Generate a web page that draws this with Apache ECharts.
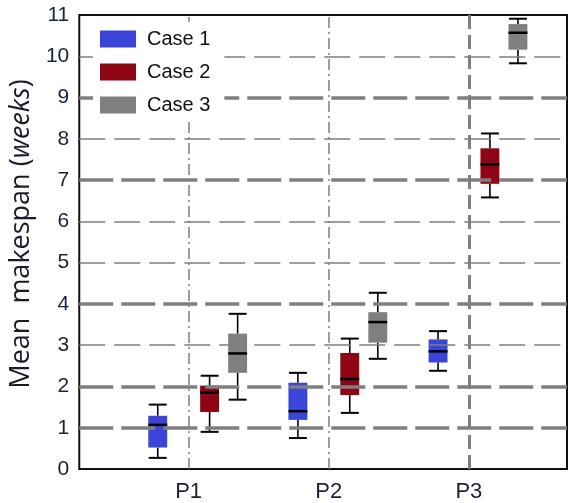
<!DOCTYPE html>
<html>
<head>
<meta charset="utf-8">
<script src="https://cdn.jsdelivr.net/npm/echarts@6/dist/echarts.min.js"></script>
<style>
html,body{margin:0;padding:0;background:#fff;}
#chart{width:569px;height:503px;}
</style>
</head>
<body>
<div id="chart"></div>
<script>
// ---- data ----
const categories = ['P1', 'P2', 'P3'];
const seriesNames = ['Case 1', 'Case 2', 'Case 3'];
// each row: [min, Q1, median, Q3, max] for P1, P2, P3
const case1 = [[0.27, 0.52, 1.07, 1.29, 1.56], [0.75, 1.19, 1.40, 2.09, 2.33], [2.38, 2.58, 2.85, 3.14, 3.34]];
const case2 = [[0.90, 1.38, 1.85, 2.02, 2.26], [1.36, 1.79, 2.18, 2.81, 3.16], [6.58, 6.91, 7.38, 7.77, 8.13]];
const case3 = [[1.68, 2.33, 2.80, 3.28, 3.76], [2.67, 3.06, 3.56, 3.80, 4.27], [9.83, 10.16, 10.57, 10.78, 10.91]];
const yTicks = [1, 2, 3, 4, 5, 6, 7, 8, 9, 10];
const thickTicks = [1, 2, 4, 7, 9];

// ---- layout / style ----
const caseData = [case1, case2, case3];
const caseColors = ['#3a44d6', '#8e0514', '#808080'];
const caseOffsets = [-0.22, 0.15, 0.35];

const chart = echarts.init(document.getElementById('chart'), null, {renderer: 'canvas'});

function makeRender(color) {
  return function (params, api) {
    const x = api.value(0);
    const lo = api.coord([x, api.value(1)]);
    const q1 = api.coord([x, api.value(2)]);
    const md = api.coord([x, api.value(3)]);
    const q3 = api.coord([x, api.value(4)]);
    const hi = api.coord([x, api.value(5)]);
    const w = api.size([1, 0])[0] * 0.135;
    const cw = w * 0.95;
    const cx = lo[0];
    const stroke = {stroke: '#000', lineWidth: 1.6};
    return {
      type: 'group',
      children: [
        {type: 'line', shape: {x1: cx, y1: lo[1], x2: cx, y2: q1[1]}, style: stroke},
        {type: 'line', shape: {x1: cx, y1: q3[1], x2: cx, y2: hi[1]}, style: stroke},
        {type: 'line', shape: {x1: cx - cw / 2, y1: lo[1], x2: cx + cw / 2, y2: lo[1]}, style: {stroke: '#000', lineWidth: 2}},
        {type: 'line', shape: {x1: cx - cw / 2, y1: hi[1], x2: cx + cw / 2, y2: hi[1]}, style: {stroke: '#000', lineWidth: 2}},
        {type: 'rect', shape: {x: cx - w / 2, y: q3[1], width: w, height: q1[1] - q3[1]}, style: {fill: color}},
        {type: 'line', shape: {x1: cx - w / 2, y1: md[1], x2: cx + w / 2, y2: md[1]}, style: {stroke: '#000', lineWidth: 2.5}}
      ]
    };
  };
}

const hLines = yTicks.map(v => ({
  yAxis: v,
  lineStyle: {
    color: '#7f7f7f',
    width: thickTicks.indexOf(v) >= 0 ? 3.5 : 1.6,
    type: thickTicks.indexOf(v) >= 0 ? [34, 8] : [26, 9]
  }
}));
const vLines = categories.map((c, i) => ({
  xAxis: i + 1,
  lineStyle: i === categories.length - 1
    ? {color: '#7f7f7f', width: 3, type: [14, 6]}
    : {color: '#7f7f7f', width: 1.5, type: [11, 4, 2, 4]}
}));

const series = [{
  type: 'line',
  data: [],
  z: 1,
  silent: true,
  markLine: {
    silent: true,
    symbol: ['none', 'none'],
    label: {show: false},
    animation: false,
    data: hLines.concat(vLines)
  }
}];
caseData.forEach((arr, k) => {
  series.push({
    name: seriesNames[k],
    type: 'custom',
    z: 3,
    itemStyle: {color: caseColors[k]},
    renderItem: makeRender(caseColors[k]),
    encode: {x: 0, y: [1, 2, 3, 4, 5]},
    data: arr.map((r, i) => [i + 1 + caseOffsets[k]].concat(r))
  });
});

const option = {
  animation: false,
  backgroundColor: '#fff',
  grid: {left: 77, right: 2, top: 15, bottom: 33, show: true, borderColor: '#111', borderWidth: 2, containLabel: false},
  legend: {
    data: seriesNames,
    orient: 'vertical',
    left: 93,
    top: 22,
    z: 20,
    backgroundColor: '#ffffff',
    padding: [7, 14, 7, 7],
    itemWidth: 36,
    itemHeight: 17,
    itemGap: 13,
    icon: 'rect',
    textStyle: {fontSize: 20, color: '#111', fontFamily: 'Liberation Sans', padding: [0, 0, 0, 6]}
  },
  xAxis: {
    type: 'value',
    min: 0.22,
    max: 3.7,
    axisLine: {show: false},
    axisTick: {show: false},
    splitLine: {show: false},
    axisLabel: {
      customValues: [1, 2, 3],
      formatter: v => categories[Math.round(v) - 1] || '',
      fontSize: 22,
      color: '#1a2238',
      fontFamily: 'Liberation Sans',
      margin: 12
    }
  },
  yAxis: {
    type: 'value',
    min: 0,
    max: 11,
    interval: 1,
    axisLine: {show: false},
    axisTick: {show: false},
    splitLine: {show: false},
    axisLabel: {fontSize: 21, color: '#1a2238', fontFamily: 'Liberation Sans', margin: 10},
    name: '{n|Mean  makespan (}{i|weeks}{n|)}',
    nameLocation: 'middle',
    nameGap: 30,
    nameTextStyle: {
      padding: [0, 0, 0, 16],
      rich: {
        n: {fontSize: 27, fontFamily: 'Open Sans', color: '#1a1a2a'},
        i: {fontSize: 27, fontFamily: 'Open Sans', fontStyle: 'italic', color: '#1a1a2a'}
      }
    }
  },
  series: series
};
chart.setOption(option);
</script>
</body>
</html>
